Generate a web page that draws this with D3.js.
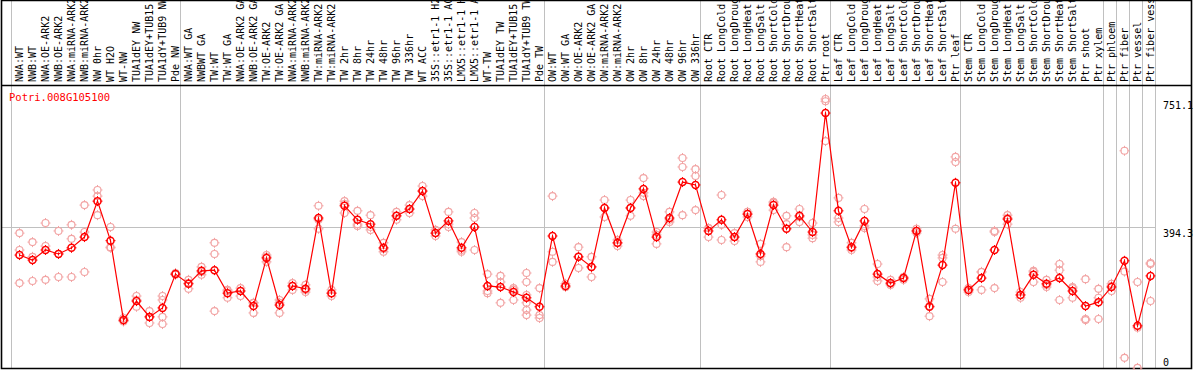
<!DOCTYPE html>
<html><head><meta charset="utf-8">
<script src="https://cdn.jsdelivr.net/npm/d3@7"></script>
<style>body{margin:0;background:#fff}svg{display:block}</style>
</head><body>
<script>
const title = "Potri.008G105100";
const categories = [
"NWA:WT","NWB:WT","NWA:OE-ARK2","NWB:OE-ARK2","NWA:miRNA-ARK2","NWB:miRNA-ARK2","NW 0hr","WT H2O","WT-NW","TUA1dEY NW","TUA1dEY+TUB15 NW","TUA1dY+TUB9 NW","Pde NW",
"NWA:WT GA","NWBWT GA","TW:WT","TW:WT GA","NWA:OE-ARK2 GA","NWB:OE-ARK2 GA","TW:OE-ARK2","TW:OE-ARK2 GA","NWA:miRNA-ARK2","NWB:miRNA-ARK2","TW:miRNA-ARK2","TW:miRNA-ARK2","TW 2hr","TW 8hr","TW 24hr","TW 48hr","TW 96hr","TW 336hr","WT ACC","35S::etr1-1 H2O","35S::etr1-1 ACC","LMX5::etr1-1 H2O","LMX5::etr1-1 ACC","WT-TW","TUA1dEY TW","TUA1dEY+TUB15 TW","TUA1dY+TUB9 TW","Pde TW",
"OW:WT","OW:WT GA","OW:OE-ARK2","OW:OE-ARK2 GA","OW:miRNA-ARK2","OW:miRNA-ARK2","OW 2hr","OW 8hr","OW 24hr","OW 48hr","OW 96hr","OW 336hr",
"Root CTR","Root LongCold","Root LongDrought","Root LongHeat","Root LongSalt","Root ShortCold","Root ShortDrought","Root ShortHeat","Root ShortSalt","Ptr root",
"Leaf CTR","Leaf LongCold","Leaf LongDrought","Leaf LongHeat","Leaf LongSalt","Leaf ShortCold","Leaf ShortDrought","Leaf ShortHeat","Leaf ShortSalt","Ptr leaf",
"Stem CTR","Stem LongCold","Stem LongDrought","Stem LongHeat","Stem LongSalt","Stem ShortCold","Stem ShortDrought","Stem ShortHeat","Stem ShortSalt","Ptr shoot","Ptr xylem",
"Ptr phloem","Ptr fiber","Ptr vessel","Ptr fiber vessel"];
// index of the first column of each group (group separators)
const groupStarts = [0,13,41,53,63,73,84,85,86,87,88];
const means = [
317,303,331,320,337,367,467,357,136,189,145,170,264,
237,273,275,211,217,175,309,178,231,223,420,211,454,415,403,337,426,445,495,378,412,337,395,231,228,214,198,173,
370,231,312,284,448,351,448,501,367,420,520,512,
384,415,367,431,320,456,390,426,381,712,
440,339,412,264,239,253,384,173,289,518,
220,253,331,417,206,262,237,253,217,175,186,228,
301,120,259];
const replicates = [
[378,331,239],[353,312,245],[406,342,248],[384,256,320],[401,362,256],[456,381,270],[498,481,428],[395,339,337],[142,135,132],[203,173,192],[161,128,145],[203,192,145,125],[264,262,267],
[248,223,239],[284,262,270],[351,320,161],[217,198,220],[225,203,217],[184,156,184],[317,298,312],[192,156,184],[239,220,231],[234,214,220],[454,390,415],[220,203,211],[459,434,467],[440,403,398],[428,395,387],[351,326,334],[437,415,426],[456,434,445],[509,481,495],[387,370,378],[437,395,403],[353,326,331],[434,420,331],[264,217,211],[259,242,184],[225,220,192],[267,242,206,184,164,150],[225,150,142],
[481,326,298],[228,237,228],[339,281,312],[312,256,284],[423,470,448],[359,342,350],[426,470,448],[531,481,490],[381,348,373],[437,409,415],[587,562,428],[556,537,442],
[392,367,392],[484,401,359],[378,356,367],[437,423,431],[348,298,314],[465,442,462],[426,403,339],[445,409,423],[406,364,373],[751.1,745,634],
[476,420,409],[351,331,337],[445,398,392],[292,256,245],[248,234,237],[256,248,253],[390,378,384],[195,147,175],[309,242,317],[590,576,390],
[225,214,220],[270,220,270],[384,225,381],[428,403,420],[198,214,206],[270,242,273],[248,228,234],[292,275,192],[228,198,225],[250,136,139],[223,198,139],[217,237,231],
[607,271,31],[242,115,3],[295,292,189]];
const yTicks = [751.1, 394.3, 0];
const gridValue = 394.3;

const W = 1194, H = 370;
const svg = d3.select("body").append("svg").attr("width", W).attr("height", H)
  .style("font-family", "'DejaVu Sans Mono', monospace");

const x = d3.scaleBand().domain(d3.range(categories.length)).range([11, 1155]).paddingInner(0).paddingOuter(0);
const xc = i => x(i) + x.bandwidth() / 2 + 2;
const y = d3.scaleLinear().domain([0, 751.1]).range([369, 99]);

// gridlines
const gridX = groupStarts.map(g => g < categories.length ? x(g) : x.range()[1]);
svg.append("g").selectAll("line").data(gridX).join("line")
  .attr("x1", d => d + 0.5).attr("x2", d => d + 0.5).attr("y1", 0).attr("y2", 368)
  .attr("stroke", "#c0c0c0").attr("stroke-width", 1);
svg.append("line").attr("x1", 2).attr("x2", 1155).attr("y1", Math.round(y(gridValue)) + 0.5).attr("y2", Math.round(y(gridValue)) + 0.5)
  .attr("stroke", "#c0c0c0").attr("stroke-width", 1);

// labels (rotated)
svg.append("clipPath").attr("id", "lc").append("rect").attr("x", 0).attr("y", 1).attr("width", W).attr("height", 83);
svg.append("g").attr("clip-path", "url(#lc)").selectAll("text").data(categories).join("text")
  .attr("transform", (d, i) => `translate(${xc(i)},82) rotate(-90)`)
  .attr("dy", "0.35em").attr("font-size", 10).attr("fill", "#000").text(d => d);

// border
svg.append("path").attr("d", "M1.5,0.5H1191.5V368.5H1.5Z M1.5,85.5H1191.5")
  .attr("fill", "none").attr("stroke", "#000").attr("stroke-width", 1.6);

// title
svg.append("text").attr("x", 9).attr("y", 101).attr("fill", "#ff0000").attr("font-size", 10.5).text(title);

// y tick labels
svg.append("g").selectAll("text").data(yTicks).join("text")
  .attr("x", 1163).attr("y", d => Math.min(y(d) + 10, 366)).attr("font-size", 10).attr("fill", "#000").text(d => d);

function marker(g, cx, cy, color, sw) {
  const r = 3.5;
  g.append("circle").attr("cx", cx).attr("cy", cy).attr("r", r).attr("fill", "none").attr("stroke", color).attr("stroke-width", sw);
  g.append("path").attr("d", `M${cx},${cy - r - 1.5}V${cy - r + 0.5}M${cx},${cy + r - 0.5}V${cy + r + 1.5}M${cx - r - 1.5},${cy}H${cx - r + 0.5}M${cx + r - 0.5},${cy}H${cx + r + 1.5}`)
    .attr("stroke", color).attr("stroke-width", 1);
}

const plot = svg.append("g");
const repG = plot.append("g");
replicates.forEach((reps, i) => reps.forEach(v => marker(repG, xc(i), y(v), "#f2a4a4", 1.1)));

plot.append("path").datum(means).attr("fill", "none").attr("stroke", "#ff0000").attr("stroke-width", 1.2)
  .attr("d", d3.line().x((d, i) => xc(i)).y(d => y(d)));

const meanG = plot.append("g");
means.forEach((v, i) => {
  marker(meanG, xc(i), y(v), "#ff0000", 1.5);
  meanG.append("line").attr("x1", xc(i)).attr("x2", xc(i)).attr("y1", y(v) - 1.5).attr("y2", y(v) + 1.5).attr("stroke", "#ff0000").attr("stroke-width", 1);
});
</script>
</body></html>
